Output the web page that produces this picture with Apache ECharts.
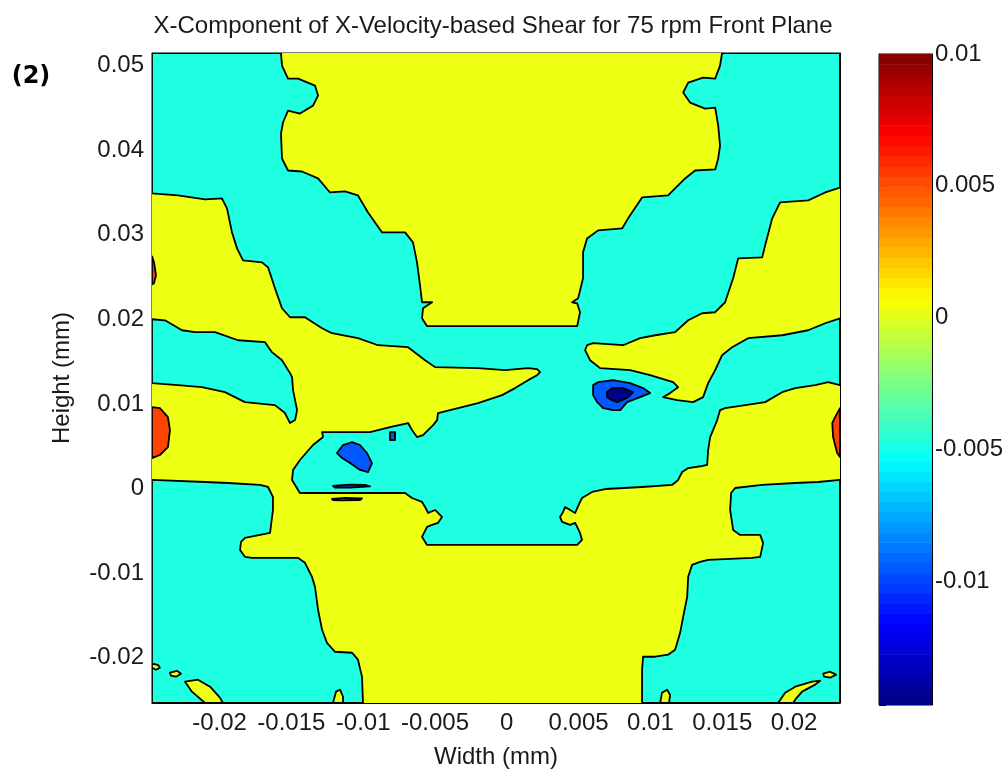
<!DOCTYPE html>
<html><head><meta charset="utf-8">
<script src="https://cdn.jsdelivr.net/npm/echarts@6/dist/echarts.min.js"></script>
<style>html,body{margin:0;padding:0;background:#fff}#c{width:1006px;height:775px}</style>
</head><body><div id="c"></div>
<script>
// axis extents (mm) and colour-scale extent
const xRange = [-0.0247, 0.0232];
const yRange = [-0.02535, 0.0515];
const cRange = [-0.0147, 0.0100];
const xTickStep = 0.005, yTickStep = 0.01, cTickStep = 0.005;
// contour level values (fill value of each band)
const levels = {navy: -0.0145, blue: -0.0095, cyan: -0.0047, yellow: 0.0003, red: 0.0053};

// contour region outlines [width, height] in mm
const cyanMain = [[-0.0247,0.0515],[-0.01572,0.0515],[-0.01565,0.05001],[-0.01523,0.04847],[-0.01453,0.04847],[-0.01335,0.04765],[-0.01314,0.04647],[-0.01349,0.04528],[-0.0144,0.04434],[-0.01523,0.04469],[-0.01558,0.04328],[-0.01572,0.04198],[-0.01565,0.03903],[-0.01523,0.03761],[-0.01426,0.03749],[-0.01314,0.03667],[-0.01231,0.03501],[-0.01126,0.03513],[-0.01036,0.03466],[-0.00966,0.03265],[-0.00868,0.03029],[-0.00708,0.03029],[-0.00653,0.02911],[-0.00625,0.02675],[-0.00604,0.02404],[-0.0059,0.02203],[-0.0052,0.02203],[-0.00583,0.02132],[-0.0059,0.02014],[-0.00555,0.0192],[0.0049,0.0192],[0.0051,0.02085],[0.0049,0.02191],[0.00455,0.02203],[0.00497,0.0225],[0.00531,0.02486],[0.00531,0.02793],[0.00559,0.02958],[0.00636,0.03053],[0.00803,0.03076],[0.00845,0.03195],[0.00942,0.03442],[0.01123,0.03466],[0.01242,0.03667],[0.01311,0.03761],[0.01451,0.03773],[0.01472,0.03903],[0.01485,0.04056],[0.01472,0.04292],[0.01451,0.04505],[0.01381,0.04493],[0.01276,0.04564],[0.01228,0.04682],[0.01263,0.048],[0.01367,0.04859],[0.01451,0.04847],[0.01485,0.05001],[0.01499,0.0515],[0.0232,0.0515],[0.0232,0.0356],[0.02217,0.03501],[0.02098,0.03407],[0.01903,0.03383],[0.01848,0.03195],[0.01799,0.02876],[0.01778,0.02734],[0.01611,0.02722],[0.01576,0.02486],[0.0152,0.02203],[0.01451,0.02085],[0.0136,0.02073],[0.01263,0.0199],[0.01172,0.01849],[0.01033,0.01813],[0.00928,0.01778],[0.0081,0.01695],[0.00601,0.01719],[0.00559,0.01695],[0.00545,0.01636],[0.0058,0.01518],[0.0065,0.01424],[0.00859,0.014],[0.00998,0.01341],[0.01158,0.01258],[0.01193,0.01199],[0.01137,0.01129],[0.01088,0.01081],[0.01186,0.01046],[0.01297,0.01022],[0.01367,0.01081],[0.01402,0.01247],[0.01451,0.014],[0.01499,0.01577],[0.01569,0.01672],[0.0168,0.01778],[0.01917,0.01813],[0.02098,0.01872],[0.02217,0.01955],[0.0232,0.02014],[0.0232,0.01223],[0.02238,0.01258],[0.02147,0.01223],[0.02008,0.01188],[0.01917,0.0114],[0.01799,0.01022],[0.0166,0.00987],[0.0152,0.00952],[0.01485,0.00928],[0.01465,0.0081],[0.01416,0.00609],[0.01402,0.00456],[0.01395,0.00279],[0.0136,0.00267],[0.01263,0.00243],[0.01221,0.00196],[0.01193,0.00102],[0.01151,0.00043],[0.00942,0.00019],[0.00685,-0.00005],[0.00594,-0.0004],[0.00524,-0.00111],[0.0051,-0.00158],[0.00476,-0.00288],[0.00406,-0.00217],[0.00392,-0.00276],[0.00371,-0.00335],[0.00385,-0.00394],[0.00441,-0.0043],[0.00476,-0.00406],[0.0049,-0.00453],[0.0051,-0.00524],[0.00524,-0.00607],[0.0049,-0.00666],[-0.00555,-0.00666],[-0.0059,-0.00571],[-0.00555,-0.00453],[-0.0052,-0.0043],[-0.00479,-0.00406],[-0.00451,-0.00335],[-0.00499,-0.00253],[-0.00548,-0.00288],[-0.00569,-0.00217],[-0.0059,-0.00158],[-0.0066,-0.00111],[-0.00708,-0.00052],[-0.0144,-0.00052],[-0.01453,-0.00016],[-0.01495,0.00102],[-0.01488,0.0022],[-0.0144,0.00338],[-0.01349,0.00515],[-0.01279,0.00609],[-0.01286,0.00668],[-0.00952,0.00668],[-0.00813,0.00727],[-0.00687,0.00775],[-0.0066,0.00692],[-0.00625,0.00609],[-0.00583,0.00633],[-0.00513,0.00751],[-0.00485,0.0081],[-0.00479,0.00893],[-0.00311,0.00963],[-0.002,0.01011],[-0.00033,0.01105],[0.00058,0.01188],[0.00148,0.01282],[0.00211,0.01341],[0.00232,0.01377],[0.00211,0.01412],[0.00148,0.01424],[-0.00012,0.014],[-0.002,0.01424],[-0.00499,0.01436],[-0.00569,0.01518],[-0.00687,0.01672],[-0.00896,0.01695],[-0.01036,0.01778],[-0.01217,0.01837],[-0.01286,0.01896],[-0.01405,0.02026],[-0.01509,0.02026],[-0.01565,0.02132],[-0.01614,0.02368],[-0.01662,0.02616],[-0.01704,0.02675],[-0.01836,0.02699],[-0.01878,0.0284],[-0.01913,0.03029],[-0.01948,0.03313],[-0.01983,0.03431],[-0.02101,0.03419],[-0.02289,0.03466],[-0.0247,0.0349]];
const cyanTongue = [[-0.0247,0.02002],[-0.0238,0.0199],[-0.02261,0.01872],[-0.02171,0.01849],[-0.02031,0.01849],[-0.01871,0.01754],[-0.01683,0.01731],[-0.01635,0.01613],[-0.01565,0.01518],[-0.01509,0.01365],[-0.01495,0.01318],[-0.01488,0.01164],[-0.0146,0.00928],[-0.01474,0.0081],[-0.01509,0.00775],[-0.01544,0.00893],[-0.01614,0.00987],[-0.01823,0.01022],[-0.01962,0.0114],[-0.02122,0.01199],[-0.02289,0.01223],[-0.0247,0.01247]];
const cyanLowerLeft = [[-0.0247,0.00102],[-0.02101,0.00078],[-0.01941,0.00066],[-0.01718,0.00043],[-0.01662,0.00019],[-0.01628,-0.00099],[-0.01628,-0.00253],[-0.01648,-0.00524],[-0.01823,-0.00583],[-0.0185,-0.0063],[-0.01857,-0.00725],[-0.01823,-0.00807],[-0.01774,-0.00819],[-0.01453,-0.00819],[-0.01405,-0.00878],[-0.01356,-0.01044],[-0.01335,-0.01162],[-0.01314,-0.01433],[-0.01286,-0.01669],[-0.01252,-0.01823],[-0.01196,-0.01929],[-0.01077,-0.01941],[-0.01036,-0.02023],[-0.01008,-0.02224],[-0.01001,-0.02535],[-0.0247,-0.02535]];
const cyanLowerRight = [[0.0232,0.00102],[0.02168,0.00078],[0.02008,0.00066],[0.01778,0.00043],[0.0159,0.00007],[0.01562,-0.00052],[0.01555,-0.00253],[0.01576,-0.00489],[0.01625,-0.00548],[0.01764,-0.00548],[0.01785,-0.00642],[0.01764,-0.00807],[0.01708,-0.00819],[0.01402,-0.00843],[0.01346,-0.00866],[0.0129,-0.00902],[0.01263,-0.01044],[0.01256,-0.0128],[0.01228,-0.01516],[0.01207,-0.01705],[0.01172,-0.01905],[0.01123,-0.01964],[0.01033,-0.01988],[0.00949,-0.01988],[0.00942,-0.02141],[0.00942,-0.02535],[0.0232,-0.02535]];
const yellowIsleBL = [[-0.0224,-0.02283],[-0.0215,-0.02259],[-0.02066,-0.02342],[-0.01997,-0.02472],[-0.01976,-0.02535],[-0.02101,-0.02535],[-0.02192,-0.02401]];
const yellowDot1 = [[-0.0247,-0.02071],[-0.02429,-0.02083],[-0.02415,-0.02118],[-0.02442,-0.02142],[-0.0247,-0.02118]];
const yellowDot2 = [[-0.02345,-0.02177],[-0.02296,-0.02154],[-0.02268,-0.02189],[-0.02303,-0.02224],[-0.02338,-0.02212]];
const yellowBumpL = [[-0.0121,-0.02535],[-0.01189,-0.02401],[-0.01161,-0.02378],[-0.0114,-0.0246],[-0.0114,-0.02535]];
const yellowBumpR = [[0.01068,-0.02535],[0.01081,-0.02413],[0.01116,-0.02378],[0.01137,-0.02437],[0.0113,-0.02535]];
const yellowSliverBR = [[0.01889,-0.02535],[0.01938,-0.02413],[0.02008,-0.02342],[0.02126,-0.02283],[0.02182,-0.02271],[0.02147,-0.02318],[0.02056,-0.02401],[0.02008,-0.02496],[0.01994,-0.02535]];
const yellowDotR = [[0.02203,-0.02189],[0.02251,-0.02165],[0.02293,-0.022],[0.02251,-0.02236],[0.0221,-0.02224]];
const blueLens = [[-0.01182,0.0042],[-0.0114,0.00515],[-0.01077,0.0055],[-0.01022,0.00515],[-0.00973,0.0042],[-0.00938,0.00302],[-0.00966,0.00196],[-0.01022,0.0022],[-0.01091,0.00302],[-0.01147,0.00361]];
const blueRect = [[-0.00813,0.00668],[-0.00778,0.00668],[-0.00778,0.00574],[-0.00813,0.00574]];
const blueSliver = [[-0.0121,0.00031],[-0.01091,0.00048],[-0.00987,0.00043],[-0.00952,0.00025],[-0.01091,0.00013],[-0.01196,0.00013]];
const redSliver = [[-0.01217,-0.00123],[-0.01126,-0.00111],[-0.01008,-0.00117],[-0.01022,-0.00135],[-0.01161,-0.0014],[-0.0121,-0.00135]];
const blueRight = [[0.00601,0.01223],[0.00636,0.01258],[0.0074,0.01282],[0.00859,0.01247],[0.00949,0.01188],[0.00998,0.01129],[0.00928,0.01081],[0.00838,0.01022],[0.0079,0.00928],[0.0074,0.00928],[0.00671,0.00952],[0.00629,0.01022],[0.00601,0.01105]];
const navyRight = [[0.00698,0.0114],[0.00733,0.01188],[0.0081,0.01188],[0.0088,0.0114],[0.00845,0.01081],[0.00803,0.01046],[0.00768,0.01022],[0.00733,0.01046],[0.00698,0.01081]];
const redLeft = [[-0.0247,0.00963],[-0.02415,0.00952],[-0.02359,0.00845],[-0.02345,0.00692],[-0.02359,0.00491],[-0.02415,0.00397],[-0.0247,0.00361]];
const redLeftTop = [[-0.0247,0.02746],[-0.02456,0.02675],[-0.02442,0.02522],[-0.02456,0.02427],[-0.0247,0.02415]];
const redRight = [[0.0232,0.00952],[0.02286,0.00845],[0.02266,0.00775],[0.02272,0.00609],[0.023,0.0042],[0.0232,0.00373]];

const plotArea = [[xRange[0],yRange[0]],[xRange[1],yRange[0]],[xRange[1],yRange[1]],[xRange[0],yRange[1]]];
const regions = [
  {pts: plotArea, level: levels.yellow, edge: false},
  {pts: cyanMain, level: levels.cyan, edge: true},
  {pts: cyanTongue, level: levels.cyan, edge: true},
  {pts: cyanLowerLeft, level: levels.cyan, edge: true},
  {pts: cyanLowerRight, level: levels.cyan, edge: true},
  {pts: yellowIsleBL, level: levels.yellow, edge: true},
  {pts: yellowDot1, level: levels.yellow, edge: true},
  {pts: yellowDot2, level: levels.yellow, edge: true},
  {pts: yellowBumpL, level: levels.yellow, edge: true},
  {pts: yellowBumpR, level: levels.yellow, edge: true},
  {pts: yellowSliverBR, level: levels.yellow, edge: true},
  {pts: yellowDotR, level: levels.yellow, edge: true},
  {pts: blueLens, level: levels.blue, edge: true},
  {pts: blueRect, level: levels.blue, edge: true},
  {pts: blueSliver, level: levels.blue, edge: true},
  {pts: redSliver, level: levels.red, edge: true},
  {pts: blueRight, level: levels.blue, edge: true},
  {pts: navyRight, level: levels.navy, edge: true},
  {pts: redLeft, level: levels.red, edge: true},
  {pts: redLeftTop, level: levels.red, edge: true},
  {pts: redRight, level: levels.red, edge: true}
];

// colour bar: 64 steps of the colour map between the scale limits
const nSteps = 64;
const barSteps = [];
for (let k = 0; k < nSteps; k++) {
  const lo = cRange[0] + (cRange[1] - cRange[0]) * k / nSteps;
  const hi = cRange[0] + (cRange[1] - cRange[0]) * (k + 1) / nSteps;
  barSteps.push([(lo + hi) / 2, lo, hi]);
}

const jet = ['#000080','#0000ff','#0080ff','#00ffff','#80ff80','#ffff00','#ff8000','#ff0000','#800000'];
const FONT = "'Liberation Sans', Arial, sans-serif";
const txt = {fontFamily: FONT, fontSize: 24, color: '#1a1a1a'};

const chart = echarts.init(document.getElementById('c'), null, {renderer: 'canvas'});

function axisX(pos, labels, extra) {
  return Object.assign({
    gridIndex: 0, type: 'value', position: pos,
    min: xRange[0], max: xRange[1], splitNumber: 9,
    minInterval: xTickStep, maxInterval: xTickStep,
    axisLine: {show: true, onZero: false, lineStyle: {color: '#000', width: 1}},
    axisTick: {show: true, inside: true, length: 7, lineStyle: {color: '#000'}},
    axisLabel: Object.assign({show: labels, showMinLabel: false, showMaxLabel: false, margin: 8}, txt),
    splitLine: {show: false}
  }, extra || {});
}
function axisY(grid, pos, labels, range, step, split, extra) {
  return Object.assign({
    gridIndex: grid, type: 'value', position: pos,
    min: range[0], max: range[1], splitNumber: split,
    minInterval: step, maxInterval: step,
    axisLine: {show: true, onZero: false, lineStyle: {color: '#000', width: 1}},
    axisTick: {show: true, inside: true, length: 7, lineStyle: {color: '#000'}},
    axisLabel: Object.assign({show: labels, showMinLabel: false, margin: 8}, txt),
    splitLine: {show: false}
  }, extra || {});
}

chart.setOption({
  animation: false,
  backgroundColor: '#fff',
  graphic: [
    {type: 'text', x: 493, y: 26, style: {text: 'X-Component of X-Velocity-based Shear for 75 rpm Front Plane', font: '24px ' + FONT, fill: '#1a1a1a', textAlign: 'center', textVerticalAlign: 'middle'}},
    {type: 'text', x: 31, y: 77, style: {text: '(2)', font: 'bold 24px "DejaVu Sans", sans-serif', fill: '#000', textAlign: 'center', textVerticalAlign: 'middle'}}
  ],
  grid: [
    {left: 152, top: 53, width: 688, height: 650, show: true, borderColor: '#000', borderWidth: 1, backgroundColor: 'transparent'},
    {left: 879, top: 54, width: 54, height: 651, show: true, borderColor: '#000', borderWidth: 1, backgroundColor: 'transparent'}
  ],
  xAxis: [
    axisX('bottom', true, {name: 'Width (mm)', nameLocation: 'middle', nameGap: 42, nameTextStyle: txt}),
    axisX('top', false),
    {gridIndex: 1, type: 'value', min: 0, max: 1, show: false}
  ],
  yAxis: [
    axisY(0, 'left', true, yRange, yTickStep, 8, {name: 'Height (mm)', nameLocation: 'middle', nameGap: 78, nameRotate: 90, nameTextStyle: txt}),
    axisY(0, 'right', false, yRange, yTickStep, 8),
    axisY(1, 'right', true, cRange, cTickStep, 5, {axisLabel: Object.assign({show: true, showMinLabel: false, margin: 3}, txt)}),
    axisY(1, 'left', false, cRange, cTickStep, 5)
  ],
  visualMap: {
    type: 'continuous', show: false, dimension: 0, seriesIndex: [0, 1],
    min: cRange[0], max: cRange[1], inRange: {color: jet}
  },
  series: [
    {
      type: 'custom', coordinateSystem: 'cartesian2d', xAxisIndex: 0, yAxisIndex: 0, clip: true,
      data: regions.map((r, i) => [r.level, i]),
      renderItem: function (params, api) {
        const r = regions[params.dataIndex];
        const pts = r.pts.map(p => api.coord(p));
        return {type: 'polygon', shape: {points: pts},
          style: {fill: api.visual('color'), stroke: r.edge ? '#000' : 'none', lineWidth: 1.8, lineJoin: 'round'}};
      },
      silent: true, z: 1
    },
    {
      type: 'custom', coordinateSystem: 'cartesian2d', xAxisIndex: 2, yAxisIndex: 2, clip: true,
      data: barSteps,
      renderItem: function (params, api) {
        const a = api.coord([0, api.value(2)]);
        const b = api.coord([1, api.value(1)]);
        return {type: 'rect', shape: {x: a[0], y: a[1], width: b[0] - a[0], height: b[1] - a[1] + 0.6},
          style: {fill: api.visual('color')}};
      },
      silent: true, z: 1
    }
  ]
});
</script>
</body></html>
